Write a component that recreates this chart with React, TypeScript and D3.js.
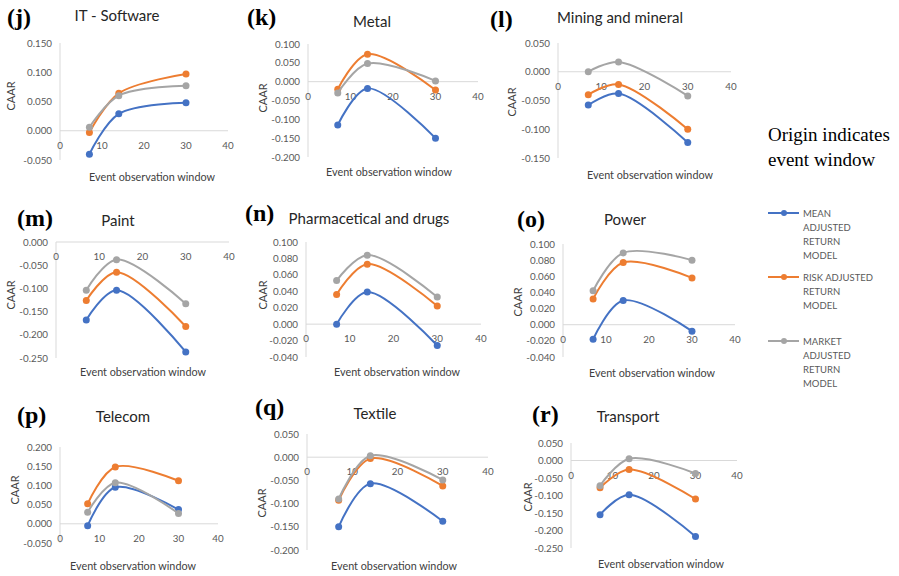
import * as d3 from 'd3';

// event windows (days) shared by every panel
const windows = [7, 14, 30];
const xTicks = [0, 10, 20, 30, 40];

const sectors = [
  'IT - Software', 'Metal', 'Mining and mineral',
  'Paint', 'Pharmacetical and drugs', 'Power',
  'Telecom', 'Textile', 'Transport',
];
const letters = ['(j)', '(k)', '(l)', '(m)', '(n)', '(o)', '(p)', '(q)', '(r)'];

// CAAR per sector at windows 7, 14, 30
const meanAdjusted = [
  [-0.040, 0.029, 0.048],
  [-0.115, -0.018, -0.150],
  [-0.058, -0.038, -0.123],
  [-0.168, -0.104, -0.237],
  [0.000, 0.039, -0.026],
  [-0.018, 0.030, -0.008],
  [-0.005, 0.095, 0.037],
  [-0.150, -0.057, -0.138],
  [-0.155, -0.098, -0.217],
];
const riskAdjusted = [
  [-0.003, 0.064, 0.097],
  [-0.020, 0.073, -0.022],
  [-0.040, -0.022, -0.100],
  [-0.126, -0.065, -0.182],
  [0.036, 0.073, 0.022],
  [0.032, 0.077, 0.058],
  [0.052, 0.148, 0.112],
  [-0.093, -0.003, -0.062],
  [-0.078, -0.026, -0.110],
];
const marketAdjusted = [
  [0.006, 0.060, 0.077],
  [-0.030, 0.048, 0.002],
  [0.000, 0.017, -0.042],
  [-0.104, -0.038, -0.133],
  [0.053, 0.084, 0.033],
  [0.042, 0.089, 0.080],
  [0.030, 0.107, 0.027],
  [-0.090, 0.003, -0.049],
  [-0.072, 0.005, -0.037],
];

// y axis range and tick step per panel
const yDomains = [
  [-0.05, 0.15], [-0.2, 0.1], [-0.15, 0.05],
  [-0.25, 0], [-0.04, 0.1], [-0.04, 0.1],
  [-0.05, 0.2], [-0.2, 0.05], [-0.25, 0.05],
];
const ySteps = [0.05, 0.05, 0.05, 0.05, 0.02, 0.02, 0.05, 0.05, 0.05];

const legendLines = [
  ['MEAN', 'ADJUSTED', 'RETURN', 'MODEL'],
  ['RISK ADJUSTED', 'RETURN', 'MODEL'],
  ['MARKET', 'ADJUSTED', 'RETURN', 'MODEL'],
];
const colors = ['#4472C4', '#ED7D31', '#A5A5A5'];

// pixel layout of each plot area (x=0..40, y=domain top..bottom)
const boxes = [
  { x0: 60, x1: 228, y0: 43, y1: 160 },
  { x0: 308, x1: 478, y0: 44, y1: 157 },
  { x0: 558, x1: 731, y0: 43, y1: 158 },
  { x0: 56, x1: 229, y0: 242, y1: 358 },
  { x0: 306, x1: 481, y0: 242, y1: 357 },
  { x0: 563, x1: 735, y0: 244, y1: 357 },
  { x0: 60, x1: 218, y0: 447, y1: 543 },
  { x0: 307, x1: 488, y0: 434, y1: 550 },
  { x0: 571, x1: 737, y0: 443, y1: 548 },
];
const letterPos = [[7, 25], [247, 25], [490, 27], [17, 226], [245, 221], [517, 227], [17, 423], [255, 415], [532, 422]];
const titlePos = [[117, 21], [372, 27], [620, 23], [118, 226], [369, 224], [625, 225], [123, 422], [375, 419], [628, 422]];
const xTitlePos = [[152, 181], [389, 176], [650, 179], [143, 376], [397, 376], [652, 377], [133, 570], [394, 570], [661, 568]];
const yTitlePos = [[11, 96], [263, 98], [512, 102], [11, 295], [263, 295], [518, 302], [15, 490], [262, 503], [528, 497]];

const sans = 'Lato, "Open Sans", sans-serif';
const fmt = (v: number) => {
  const r = Math.round(v * 1000) / 1000;
  return (r === 0 ? 0 : r).toFixed(3);
};

function Panel({ i }: { i: number }) {
  const b = boxes[i];
  const [lo, hi] = yDomains[i];
  const x = d3.scaleLinear().domain([0, 40]).range([b.x0, b.x1]);
  const y = d3.scaleLinear().domain([lo, hi]).range([b.y1, b.y0]);
  const step = ySteps[i];
  const yTicks = d3.range(0, Math.round((hi - lo) / step) + 1).map((k) => lo + k * step);
  const line = d3
    .line<number>()
    .x((_, k) => x(windows[k]))
    .y((d) => y(d))
    .curve(d3.curveCatmullRom.alpha(0.5));
  const series = [meanAdjusted[i], riskAdjusted[i], marketAdjusted[i]];
  const zeroY = y(0);

  return (
    <g>
      <line x1={b.x0} x2={b.x0} y1={b.y0} y2={b.y1} stroke="#D9D9D9" strokeWidth={1} />
      <line x1={b.x0} x2={b.x1} y1={zeroY} y2={zeroY} stroke="#D9D9D9" strokeWidth={1} />
      {yTicks.map((t) => (
        <text key={'y' + t} x={b.x0 - 8} y={y(t) + 3.5} textAnchor="end" fontSize={9.8} fill="#595959" fontFamily={sans}>
          {fmt(t)}
        </text>
      ))}
      {xTicks.map((t) => (
        <text key={'x' + t} x={x(t)} y={zeroY + 18} textAnchor="middle" fontSize={9.8} fill="#595959" fontFamily={sans}>
          {t}
        </text>
      ))}
      {series.map((s, si) => (
        <g key={si}>
          <path d={line(s) || ''} fill="none" stroke={colors[si]} strokeWidth={2} />
          {s.map((v, k) => (
            <circle key={k} cx={x(windows[k])} cy={y(v)} r={3.5} fill={colors[si]} />
          ))}
        </g>
      ))}
      <text x={letterPos[i][0]} y={letterPos[i][1]} fontSize={24} fontWeight="bold" fontFamily='"Liberation Serif", serif' fill="#000">
        {letters[i]}
      </text>
      <text x={titlePos[i][0]} y={titlePos[i][1]} textAnchor="middle" fontSize={15} fill="#262626" fontFamily={sans}>
        {sectors[i]}
      </text>
      <text x={xTitlePos[i][0]} y={xTitlePos[i][1]} textAnchor="middle" fontSize={10.8} fill="#404040" fontFamily={sans}>
        Event observation window
      </text>
      <text
        transform={`translate(${yTitlePos[i][0] + 4},${yTitlePos[i][1]}) rotate(-90)`}
        textAnchor="middle"
        fontSize={11}
        fill="#404040"
        fontFamily={sans}
      >
        CAAR
      </text>
    </g>
  );
}

function Legend() {
  const starts = [213, 277, 341];
  return (
    <g>
      <text x={768} y={141} fontSize={19} fontFamily='"Liberation Serif", serif' fill="#000">Origin indicates</text>
      <text x={768} y={166} fontSize={19} fontFamily='"Liberation Serif", serif' fill="#000">event window</text>
      {legendLines.map((lines, si) => (
        <g key={si}>
          <line x1={768} x2={799} y1={starts[si]} y2={starts[si]} stroke={colors[si]} strokeWidth={2} />
          <circle cx={784} cy={starts[si]} r={3} fill={colors[si]} />
          {lines.map((l, li) => (
            <text key={li} x={803} y={starts[si] + 3.5 + li * 14} fontSize={9.5} fill="#595959" fontFamily={sans}>
              {l}
            </text>
          ))}
        </g>
      ))}
    </g>
  );
}

export default function App() {
  return (
    <svg width={899} height={576} style={{ position: 'absolute', left: 0, top: 0, background: '#fff' }}>
      <rect width={899} height={576} fill="#fff" />
      {sectors.map((_, i) => (
        <Panel key={i} i={i} />
      ))}
      <Legend />
    </svg>
  );
}
